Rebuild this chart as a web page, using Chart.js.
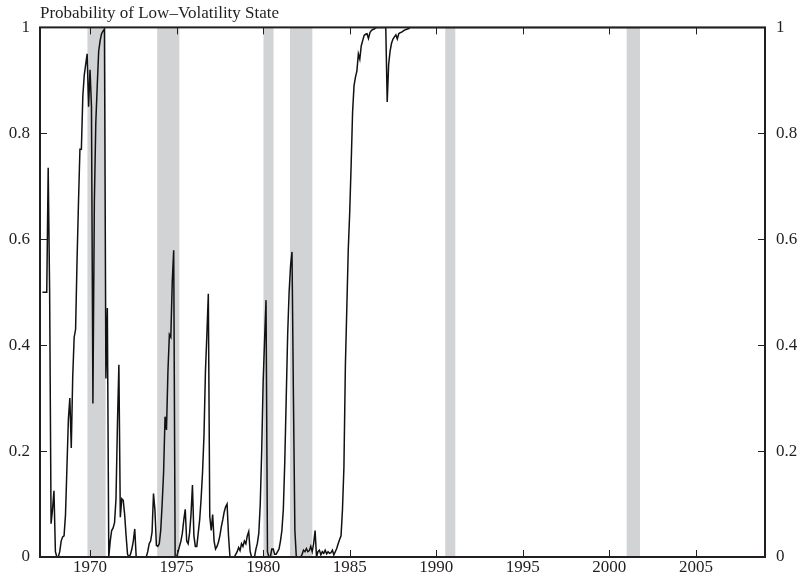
<!DOCTYPE html>
<html>
<head>
<meta charset="utf-8">
<script src="https://cdn.jsdelivr.net/npm/chart.js@4.4.1/dist/chart.umd.min.js"></script>
<style>
  html, body { margin: 0; padding: 0; background: #fff; }
</style>
</head>
<body>
<canvas id="chartProb" width="804" height="581"></canvas>
<script>
// Dados mensais: primeiro ponto = abril de 1967
const firstYear = 1967;
const firstMonth = 4;
const probLowVol = [
    0.5, 0.5, 0.5, 0.5, 0.735, 0.5, 0.063, 0.09, 0.125,                          // 1967
    0.01, 0, 0, 0.01, 0.03, 0.038, 0.04, 0.08, 0.17, 0.26, 0.30, 0.206,           // 1968
    0.34, 0.415, 0.43, 0.56, 0.67, 0.77, 0.77, 0.87, 0.91, 0.93, 0.95, 0.85,     // 1969
    0.92, 0.85, 0.29, 0.67, 0.82, 0.89, 0.955, 0.975, 0.988, 0.993, 0.997, 0.337, // 1970
    0.47, 0, 0.03, 0.05, 0.055, 0.065, 0.11, 0.25, 0.363, 0.075, 0.11, 0.107,    // 1971
    0.08, 0.04, 0.005, 0, 0.005, 0.015, 0.03, 0.053, 0, 0, 0, 0,                 // 1972
    0, 0, 0, 0, 0.01, 0.025, 0.03, 0.047, 0.12, 0.088, 0.022, 0.02,              // 1973
    0.025, 0.05, 0.1, 0.16, 0.265, 0.24, 0.35, 0.42, 0.415, 0.52, 0.579, 0,      // 1974
    0, 0.01, 0.02, 0.03, 0.045, 0.07, 0.09, 0.03, 0.025, 0.045, 0.08, 0.136,     // 1975
    0.04, 0.02, 0.02, 0.045, 0.07, 0.11, 0.16, 0.23, 0.35, 0.42, 0.497, 0.077,   // 1976
    0.05, 0.08, 0.03, 0.015, 0.02, 0.028, 0.04, 0.057, 0.07, 0.085, 0.095, 0.1,  // 1977
    0.04, 0, 0, 0, 0, 0.005, 0.01, 0.018, 0.012, 0.025, 0.02, 0.03,              // 1978
    0.025, 0.04, 0.048, 0.01, 0, 0, 0, 0.015, 0.026, 0.045, 0.1, 0.2,            // 1979
    0.33, 0.41, 0.485, 0.01, 0, 0, 0.015, 0.015, 0.005, 0.005, 0.01, 0.015,      // 1980
    0.03, 0.05, 0.09, 0.18, 0.3, 0.42, 0.5, 0.55, 0.576, 0.3, 0.05, 0,           // 1981
    0, 0, 0, 0.005, 0.013, 0.01, 0.016, 0.01, 0.012, 0.02, 0.01, 0.025,          // 1982
    0.05, 0, 0.01, 0.013, 0.004, 0.01, 0.007, 0.013, 0.006, 0.01, 0.007, 0.008,  // 1983
    0.013, 0.004, 0.01, 0.016, 0.025, 0.033, 0.04, 0.09, 0.17, 0.36, 0.47, 0.58, // 1984
    0.65, 0.74, 0.84, 0.89, 0.906, 0.918, 0.95, 0.94, 0.965, 0.975, 0.985, 0.987, // 1985
    0.988, 0.979, 0.99, 0.994, 0.996, 0.997, 0.999, 1, 1, 1, 1, 1,               // 1986
    1, 1, 0.859, 0.93, 0.955, 0.97, 0.978, 0.982, 0.986, 0.978, 0.988, 0.99,     // 1987
    0.991, 0.993, 0.995, 0.996, 0.997, 0.998, 1, 1, 1, 1, 1, 1,                  // 1988
    1, 1, 1, 1, 1, 1, 1, 1, 1, 1, 1, 1,   // 1989
    1, 1, 1, 1, 1, 1, 1, 1, 1, 1, 1, 1,   // 1990
    1, 1, 1, 1, 1, 1, 1, 1, 1, 1, 1, 1,   // 1991
    1, 1, 1, 1, 1, 1, 1, 1, 1, 1, 1, 1,   // 1992
    1, 1, 1, 1, 1, 1, 1, 1, 1, 1, 1, 1,   // 1993
    1, 1, 1, 1, 1, 1, 1, 1, 1, 1, 1, 1,   // 1994
    1, 1, 1, 1, 1, 1, 1, 1, 1, 1, 1, 1,   // 1995
    1, 1, 1, 1, 1, 1, 1, 1, 1, 1, 1, 1,   // 1996
    1, 1, 1, 1, 1, 1, 1, 1, 1, 1, 1, 1,   // 1997
    1, 1, 1, 1, 1, 1, 1, 1, 1, 1, 1, 1,   // 1998
    1, 1, 1, 1, 1, 1, 1, 1, 1, 1, 1, 1,   // 1999
    1, 1, 1, 1, 1, 1, 1, 1, 1, 1, 1, 1,   // 2000
    1, 1, 1, 1, 1, 1, 1, 1, 1, 1, 1, 1,   // 2001
    1, 1, 1, 1, 1, 1, 1, 1, 1, 1, 1, 1,   // 2002
    1, 1, 1, 1, 1, 1, 1, 1, 1, 1, 1, 1,   // 2003
    1, 1, 1, 1, 1, 1, 1, 1, 1, 1, 1, 1,   // 2004
    1, 1, 1, 1, 1, 1, 1, 1, 1, 1, 1, 1,   // 2005
    1, 1, 1, 1, 1, 1, 1, 1, 1, 1, 1, 1,   // 2006
    1, 1, 1, 1, 1, 1, 1, 1, 1, 1, 1, 1,   // 2007
    1, 1, 1, 1, 1, 1, 1, 1, 1, 1, 1, 1    // 2008
];

// Recessões (faixas cinza), em anos decimais
const recessionStart = [1969.85, 1973.88, 1980.02, 1981.55, 1990.52, 2001.0];
const recessionEnd   = [1970.9, 1975.16, 1980.6, 1982.84, 1991.1, 2001.77];

// Eixos
const xMin = 1967.11;
const xMax = 2008.99;
const xTickYears = [1970, 1975, 1980, 1985, 1990, 1995, 2000, 2005];
const yTicks = [0, 0.2, 0.4, 0.6, 0.8, 1];
const chartTitle = 'Probability of Low–Volatility State';

const textColor = '#231f20';
const fontSerif = { family: "'Liberation Serif', 'Times New Roman', serif", size: 17 };

const points = probLowVol.map((v, i) => ({ x: firstYear + (firstMonth - 1 + i) / 12, y: v }));

// Faixas de recessão + moldura com ticks para dentro
const frameAndBands = {
    id: 'frameAndBands',
    beforeDatasetsDraw(chart) {
        const { ctx, chartArea: a, scales: { x } } = chart;
        ctx.save();
        ctx.fillStyle = '#d1d3d4';
        recessionStart.forEach((s, i) => {
            const x0 = x.getPixelForValue(s);
            const x1 = x.getPixelForValue(recessionEnd[i]);
            ctx.fillRect(x0, a.top, x1 - x0, a.bottom - a.top);
        });
        ctx.restore();
    },
    afterDatasetsDraw(chart) {
        const { ctx, chartArea: a, scales: { x, y } } = chart;
        const tl = 7;
        ctx.save();
        ctx.strokeStyle = textColor;
        ctx.lineWidth = 1;
        ctx.beginPath();
        yTicks.forEach(v => {
            const py = Math.round(y.getPixelForValue(v)) + 0.5;
            ctx.moveTo(a.left, py); ctx.lineTo(a.left + tl, py);
            ctx.moveTo(a.right, py); ctx.lineTo(a.right - tl, py);
        });
        xTickYears.forEach(v => {
            const px = Math.round(x.getPixelForValue(v)) + 0.5;
            ctx.moveTo(px, a.bottom); ctx.lineTo(px, a.bottom - tl);
            ctx.moveTo(px, a.top); ctx.lineTo(px, a.top + tl);
        });
        ctx.stroke();
        ctx.lineWidth = 2;
        ctx.strokeRect(a.left, a.top, a.right - a.left, a.bottom - a.top);
        ctx.restore();
    }
};

const ctxProb = document.getElementById('chartProb').getContext('2d');
const chartProb = new Chart(ctxProb, {
    type: 'line',
    data: {
        datasets: [{
            data: points,
            borderColor: '#111111',
            borderWidth: 1.5,
            pointRadius: 0,
            tension: 0,
            fill: false
        }]
    },
    options: {
        responsive: false,
        devicePixelRatio: 1,
        animation: false,
        layout: { padding: 0 },
        plugins: {
            legend: { display: false },
            tooltip: { enabled: false },
            title: {
                display: true,
                text: chartTitle,
                align: 'start',
                fullSize: false,
                color: textColor,
                font: { ...fontSerif, weight: 'normal' },
                padding: { top: 3, bottom: 4 }
            }
        },
        scales: {
            x: {
                type: 'linear',
                min: xMin,
                max: xMax,
                grid: { display: false, drawTicks: false },
                border: { display: false },
                ticks: { color: textColor, font: fontSerif, padding: 0, maxRotation: 0, callback: v => String(v) },
                afterBuildTicks: s => { s.ticks = xTickYears.map(v => ({ value: v })); },
                afterFit: s => { s.height = 24; }
            },
            y: {
                position: 'left',
                min: 0,
                max: 1,
                grid: { display: false, drawTicks: false },
                border: { display: false },
                ticks: { color: textColor, font: fontSerif, padding: 10, callback: v => String(v) },
                afterBuildTicks: s => { s.ticks = yTicks.map(v => ({ value: v })); },
                afterFit: s => { s.width = 40; }
            },
            y2: {
                position: 'right',
                min: 0,
                max: 1,
                grid: { display: false, drawTicks: false },
                border: { display: false },
                ticks: { color: textColor, font: fontSerif, padding: 11, callback: v => String(v) },
                afterBuildTicks: s => { s.ticks = yTicks.map(v => ({ value: v })); },
                afterFit: s => { s.width = 39; }
            }
        }
    },
    plugins: [frameAndBands]
});
</script>
</body>
</html>
